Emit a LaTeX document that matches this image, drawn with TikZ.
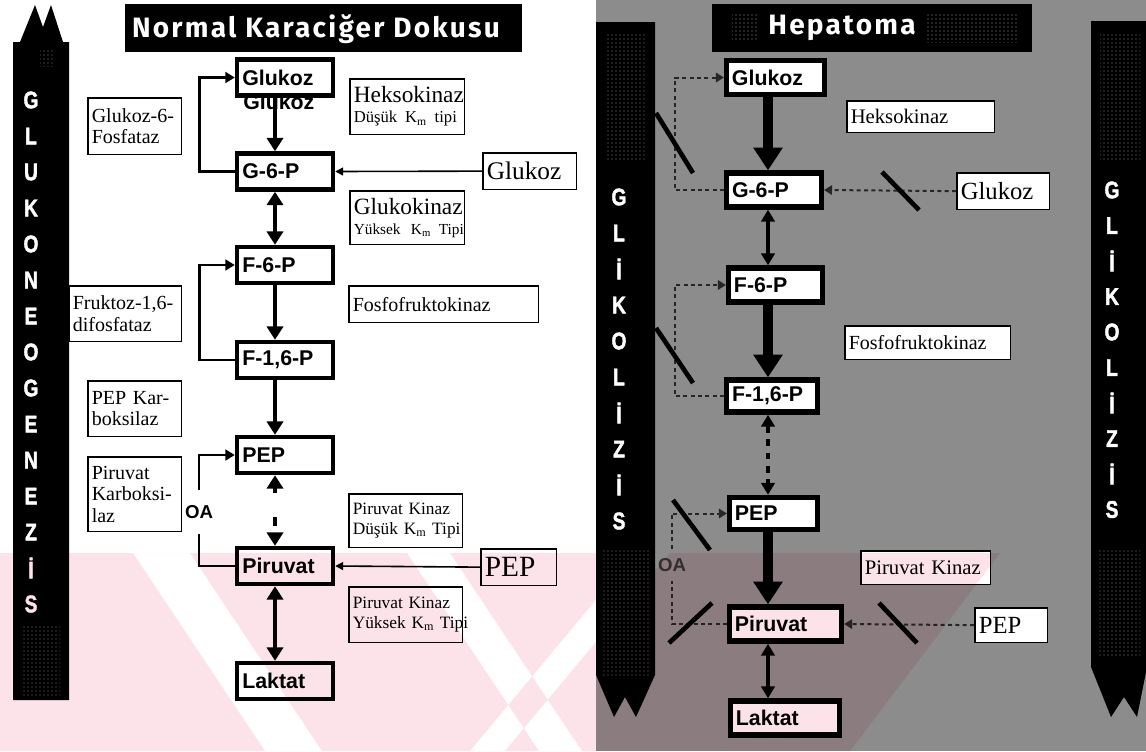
\documentclass[tikz,border=0pt]{standalone}
\usepackage{fontspec}
\setmainfont{Liberation Serif}
\setsansfont{Liberation Sans}
\newfontfamily\capfont[LetterSpace=8]{Fira Sans}
\newfontfamily\barfont[FakeBold=2]{Liberation Sans}
\usetikzlibrary{arrows.meta,positioning,calc,patterns}
\definecolor{panelgray}{RGB}{140,140,140}
\definecolor{wmpink}{RGB}{252,226,233}
\newcommand\barch[1]{\scalebox{0.8}[1]{#1}}

\begin{document}
\begin{tikzpicture}[
  x=0.75pt, y=-0.75pt,
  metbox/.style={draw, line width=3.3pt, fill=white, inner xsep=4pt, inner ysep=0pt,
    text width=#1, align=left, minimum height=27pt,
    font=\sffamily\bfseries\fontsize{16}{16}\selectfont},
  hepbox/.style={metbox=#1, line width=4pt, minimum height=25.5pt},
  enzbox/.style n args={2}{draw, line width=1.2pt, fill=white, anchor=north west,
    inner xsep=3pt, inner ysep=0pt, text width=#1, minimum height=#2, align=left},
  barletter/.style={text=white, inner sep=0pt,
    font=\barfont\bfseries\fontsize{18}{18}\selectfont},
  titletext/.style={text=white, inner sep=0pt,
    font=\capfont\bfseries\fontsize{21}{21}\selectfont},
  oatext/.style={inner xsep=0pt, font=\sffamily\bfseries\fontsize{14}{14}\selectfont},
  flow/.style={line width=3pt, -{Triangle[width=12pt,length=10pt]}},
  biflow/.style={line width=3pt, {Triangle[width=12pt,length=10pt]}-{Triangle[width=12pt,length=10pt]}},
  bigflow/.style={line width=7pt, -{Triangle[width=21pt,length=17pt]}},
  smallbi/.style={line width=3pt, {Triangle[width=10pt,length=9pt]}-{Triangle[width=10pt,length=9pt]}},
  fbline/.style={line width=2pt},
  fbarrow/.style={fbline, -{Triangle[width=8pt,length=7pt]}},
  inhib/.style={line width=1.2pt, -{Triangle[width=6pt,length=6pt]}},
  fbdash/.style={line width=1.5pt, black!85, dash pattern=on 3pt off 2.5pt},
  slash/.style={line width=3.5pt}
]
\useasboundingbox (0,0) rectangle (1146,751);

% hepatoma background and bars
\fill[panelgray] (596,0) rectangle (1146,751);
\fill (13,42) -- (20,42) -- (35,5) -- (43,27) -- (51,5) -- (63,42) -- (69,42)
  -- (69,700) -- (13,700) -- cycle;
\fill (596,22) -- (655,22) -- (655,675) -- (636,717) -- (625,697) -- (614,717)
  -- (596,675) -- cycle;
\fill (1091,21) -- (1146,21) -- (1146,672) -- (1137,717) -- (1124,697) -- (1111,717)
  -- (1091,667) -- cycle;
\fill[pattern=dots, pattern color=gray] (22,625) rectangle (60,695);
\fill[pattern=dots, pattern color=gray] (40,50) rectangle (55,66);
\fill[pattern=dots, pattern color=gray] (605,32) rectangle (645,160);
\fill[pattern=dots, pattern color=gray] (603,550) rectangle (650,675);
\fill[pattern=dots, pattern color=gray] (1100,32) rectangle (1140,160);
\fill[pattern=dots, pattern color=gray] (1098,550) rectangle (1140,655);

\foreach \ch [count=\i from 0] in {G,L,U,K,O,N,E,O,G,E,N,E,Z,İ,S}
  \node[barletter] (gn\i) at (31,100+36*\i) {\barch{\ch}};
\foreach \ch [count=\i from 0] in {G,L,İ,K,O,L,İ,Z,İ,S} {
  \node[barletter] (gla\i) at (619,197+36*\i) {\barch{\ch}};
  \node[barletter] (glb\i) at (1112,190+35.5*\i) {\barch{\ch}};
}

% titles
\fill (125,4) rectangle (522,52);
\node[titletext] (ttlnormal) at (316,29) {Normal Karaciğer Dokusu};
\fill (712,4) rectangle (1032,52);
\fill[pattern=dots, pattern color=gray!80] (732,14) rectangle (757,40);
\fill[pattern=dots, pattern color=gray!80] (925,12) rectangle (1018,42);
\node[titletext] (ttlhep) at (842,28) {Hepatoma};

% normal liver
\node[anchor=base west, inner sep=0pt, font=\sffamily\bfseries\fontsize{16}{16}\selectfont]
  (glcghost) at (243,109) {Glukoz};
\node[metbox=64pt] (glc) at (285,77.5) {Glukoz};
\node[metbox=64pt] (g6p) at (285,171.5) {G-6-P};
\node[metbox=64pt] (f6p) at (285,265) {F-6-P};
\node[metbox=64pt] (f16p) at (285,360) {F-1,6-P};
\node[metbox=64pt] (pep) at (285,455) {PEP};
\node[metbox=64pt] (pir) at (285,566) {Piruvat};
\node[metbox=64pt] (lak) at (285,681) {Laktat};
\coordinate (lax) at (275,0);

\node[enzbox={64.3pt}{42.5pt}, font=\fontsize{15}{16}\selectfont] (gsixpase) at (87,97)
  {Glukoz-6-\\Fosfataz};
\node[enzbox={80pt}{41.8pt}, font=\fontsize{17.5}{15}\selectfont] (hk) at (349,78)
  {Heksokinaz\\\mbox{\fontsize{12.5}{15}\selectfont Düşük K\textsubscript{m} tipi}};
\node[enzbox={64.3pt}{27.5pt}, font=\fontsize{19}{18}\selectfont] (glcin) at (482,152)
  {Glukoz};
\node[enzbox={80pt}{40.3pt}, font=\fontsize{17.5}{15}\selectfont] (gk) at (349,190)
  {Glukokinaz\\\mbox{\fontsize{11.5}{15}\selectfont Yüksek\, K\textsubscript{m} Tipi}};
\node[enzbox={78.5pt}{41.8pt}, font=\fontsize{15}{16}\selectfont] (fbpase) at (68,285)
  {Fruktoz-1,6-\\difosfataz};
\node[enzbox={136.3pt}{27.5pt}, font=\fontsize{15}{16}\selectfont] (pfk) at (348,285)
  {Fosfofruktokinaz};
\node[enzbox={64.3pt}{41.8pt}, font=\fontsize{15}{16}\selectfont] (pepck) at (87,380)
  {PEP Kar-\\boksilaz};
\node[enzbox={64.3pt}{56pt}, font=\fontsize{15}{16}\selectfont] (pc) at (87,456)
  {Piruvat\\Karboksi-\\laz};
\node[enzbox={79.3pt}{40.3pt}, font=\fontsize{13}{15}\selectfont] (pkl) at (348,493)
  {\mbox{Piruvat Kinaz}\\\mbox{Düşük K\textsubscript{m} Tipi}};
\node[enzbox={50.8pt}{27.5pt}, font=\fontsize{22}{20}\selectfont] (pepin) at (480,548)
  {PEP};
\node[enzbox={79.3pt}{41.8pt}, font=\fontsize{13}{15}\selectfont] (pkh) at (348,586)
  {\mbox{Piruvat Kinaz}\\\mbox{Yüksek K\textsubscript{m} Tipi}};
\node[oatext, inner ysep=11pt] (oa) at (199,512) {OA};

\draw[flow] (glc.south -| lax) -- (g6p.north -| lax);
\draw[biflow] (g6p.south -| lax) -- (f6p.north -| lax);
\draw[flow] (f6p.south -| lax) -- (f16p.north -| lax);
\draw[flow] (f16p.south -| lax) -- (pep.north -| lax);
\draw[biflow, dash pattern=on 4pt off 18pt on 7pt off 20pt] (pep.south -| lax) -- (pir.north -| lax);
\draw[biflow] (pir.south -| lax) -- (lak.north -| lax);
\draw[fbarrow] (g6p.west) -- ++(-35,0) |- (glc.west);
\draw[fbarrow] (f16p.west) -- ++(-35,0) |- (f6p.west);
\draw[fbline] (pir.west) -| (oa.south);
\draw[fbarrow] (oa.north) |- (pep.west);
\draw[inhib] (glcin.west) -- (g6p.east);
\draw[inhib] (pepin.west) -- (pir.east);

% hepatoma
\node[hepbox=65.3pt] (glctwo) at (775.5,77.5) {Glukoz};
\node[hepbox=63pt] (gsixtwo) at (774,190) {G-6-P};
\node[hepbox=62.3pt] (fsixtwo) at (775.5,285) {F-6-P};
\node[hepbox=60pt, minimum height=24pt] (fbistwo) at (772,396) {F-1,6-P};
\node[hepbox=57.8pt, minimum height=24pt] (peptwo) at (773.5,513.5) {PEP};
\node[hepbox=75.9pt] (pirtwo) at (785.5,624) {Piruvat};
\node[hepbox=73.6pt] (laktwo) at (785,718) {Laktat};
\coordinate (rax) at (768,0);

\node[enzbox={104.8pt}{23.8pt}, font=\fontsize{15.5}{16}\selectfont] (hktwo) at (846,100)
  {Heksokinaz};
\node[enzbox={63.5pt}{27.5pt}, font=\fontsize{18.5}{18}\selectfont] (glcintwo) at (956,172)
  {Glukoz};
\node[enzbox={118.3pt}{25.3pt}, font=\fontsize{15}{16}\selectfont] (pfktwo) at (844,325)
  {Fosfofruktokinaz};
\node[enzbox={91.3pt}{25.3pt}, font=\fontsize{15.5}{16}\selectfont] (pktwo) at (860,550)
  {Piruvat Kinaz};
\node[enzbox={48.5pt}{26pt}, font=\fontsize{18.5}{18}\selectfont] (pepintwo) at (974,607)
  {PEP};
\node[oatext, inner ysep=7pt, text=black!80] (oatwo) at (672,565) {OA};

\draw[bigflow] (glctwo.south -| rax) -- (gsixtwo.north -| rax);
\draw[smallbi] (gsixtwo.south -| rax) -- (fsixtwo.north -| rax);
\draw[bigflow] (fsixtwo.south -| rax) -- (fbistwo.north -| rax);
\draw[smallbi, dash pattern=on 5pt off 5pt] (fbistwo.south -| rax) -- (peptwo.north -| rax);
\draw[bigflow] (peptwo.south -| rax) -- (pirtwo.north -| rax);
\draw[smallbi] (pirtwo.south -| rax) -- (laktwo.north -| rax);
\draw[fbdash, -{Triangle[width=7pt,length=6pt]}] (gsixtwo.west) -- ++(-49,0) |- (glctwo.west);
\draw[fbdash, -{Triangle[width=7pt,length=6pt]}] (fbistwo.west) -- ++(-49,0) |- (fsixtwo.west);
\draw[fbdash] (pirtwo.west) -| (oatwo.south);
\draw[fbdash, -{Triangle[width=7pt,length=6pt]}] (oatwo.north) |- (peptwo.west);
\draw[fbdash, -{Triangle[width=7pt,length=6pt]}] (glcintwo.west) -- (gsixtwo.east);
\draw[fbdash, -{Triangle[width=7pt,length=6pt]}] (pepintwo.west) -- (pirtwo.east);

\draw[slash] (656,113) -- (693,173);
\draw[slash] (882,172) -- (919,210);
\draw[slash] (656,328) -- (693,383);
\draw[slash] (673,500) -- (710,550);
\draw[slash] (669,643) -- (712,603);
\draw[slash] (879,603) -- (917,643);

% watermark
\begin{scope}[blend mode=multiply]
\fill[wmpink, even odd rule] (0,553) -- (1000,553) -- (850,751) -- (0,751) -- cycle
  (133,553) -- (190,553) -- (322,751) -- (265,751) -- cycle
  (407,553) -- (450,553) -- (582,751) -- (539,751) -- cycle
  (635,553) -- (670,553) -- (505,751) -- (470,751) -- cycle;
\end{scope}
\end{tikzpicture}
\end{document}
